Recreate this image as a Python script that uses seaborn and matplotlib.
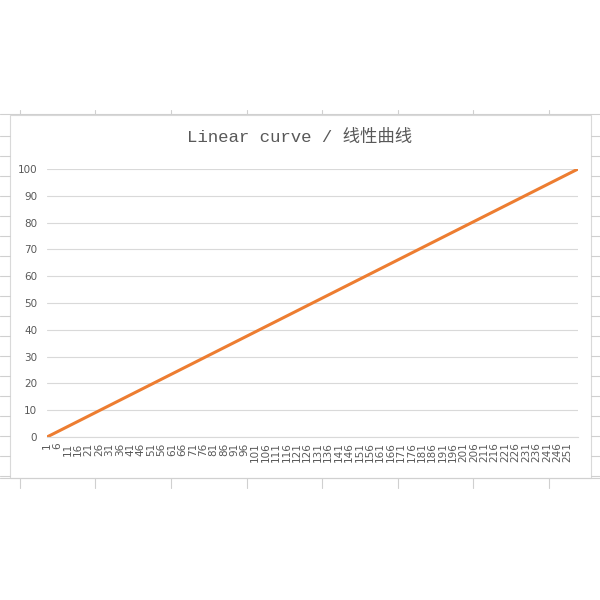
import matplotlib
matplotlib.use("Agg")
import matplotlib.pyplot as plt
from matplotlib.lines import Line2D
from matplotlib.patches import Rectangle
import pandas as pd
import seaborn as sns

# Series: straight line from 0 at category 1 to 100 at category 256
x_points = [1, 256]
y_points = [0, 100]

x_tick_labels = list(range(1, 256, 5))   # 1, 6, 11, ... 251
y_ticks = list(range(0, 101, 10))

TITLE = "Linear curve / 线性曲线"
LINE_COLOR = "#ED7D31"
GRID_COLOR = "#D9D9D9"
TEXT_COLOR = "#595959"
SHEET_COLOR = "#D0D0D0"

sns.set_style("white")
plt.rcParams["font.family"] = ["DejaVu Sans", "Noto Sans CJK SC"]

df = pd.DataFrame({"x": x_points, "y": y_points})

fig = plt.figure(figsize=(6, 6), dpi=100)
W, H = 600, 600


def fx(px):
    return px / W


def fy(py):
    return 1 - py / H


# --- spreadsheet background around the chart ---
fig.add_artist(Line2D([0, 1], [fy(114), fy(114)], color=SHEET_COLOR, lw=0.8))
fig.add_artist(Line2D([0, 1], [fy(478), fy(478)], color=SHEET_COLOR, lw=0.8))
for cx in [20, 95, 171, 247, 322, 398, 473, 549]:
    fig.add_artist(Line2D([fx(cx), fx(cx)], [fy(110), fy(114)], color=SHEET_COLOR, lw=0.8))
    fig.add_artist(Line2D([fx(cx), fx(cx)], [fy(478), fy(488)], color=SHEET_COLOR, lw=0.8))
for ry in range(136, 478, 20):
    fig.add_artist(Line2D([0, fx(10)], [fy(ry), fy(ry)], color=SHEET_COLOR, lw=0.8))
    fig.add_artist(Line2D([fx(591), 1], [fy(ry), fy(ry)], color=SHEET_COLOR, lw=0.8))

# chart frame
fig.add_artist(Rectangle((fx(10), fy(478)), fx(581), 363 / H, transform=fig.transFigure,
                         facecolor="white", edgecolor=GRID_COLOR, lw=0.8, zorder=0))

# --- plot area ---
ax = fig.add_axes([fx(47), fy(437), fx(531), 268 / H])
ax.set_facecolor("none")
sns.lineplot(data=df, x="x", y="y", ax=ax, color=LINE_COLOR, linewidth=2.2,
             solid_capstyle="round")

ax.set_xlim(1, 256)
ax.set_ylim(0, 100)
ax.set_yticks(y_ticks)
ax.set_xticks(x_tick_labels)
ax.set_xticklabels([str(v) for v in x_tick_labels], rotation=90, fontsize=7.5,
                   color=TEXT_COLOR)
ax.tick_params(axis="y", labelsize=7.5, labelcolor=TEXT_COLOR, length=0, pad=7)
ax.tick_params(axis="x", length=0, pad=4)
ax.yaxis.grid(True, color=GRID_COLOR, lw=0.8)
ax.set_axisbelow(True)
for side in ["top", "right", "left"]:
    ax.spines[side].set_visible(False)
ax.spines["bottom"].set_color(GRID_COLOR)
ax.spines["bottom"].set_linewidth(0.8)
ax.set_xlabel("")
ax.set_ylabel("")

fig.text(0.5, fy(137), TITLE, ha="center", va="center", fontsize=12.5, color=TEXT_COLOR,
         family=["Liberation Mono", "Noto Sans CJK SC"])

fig.savefig("out.png", dpi=100, facecolor="white")
